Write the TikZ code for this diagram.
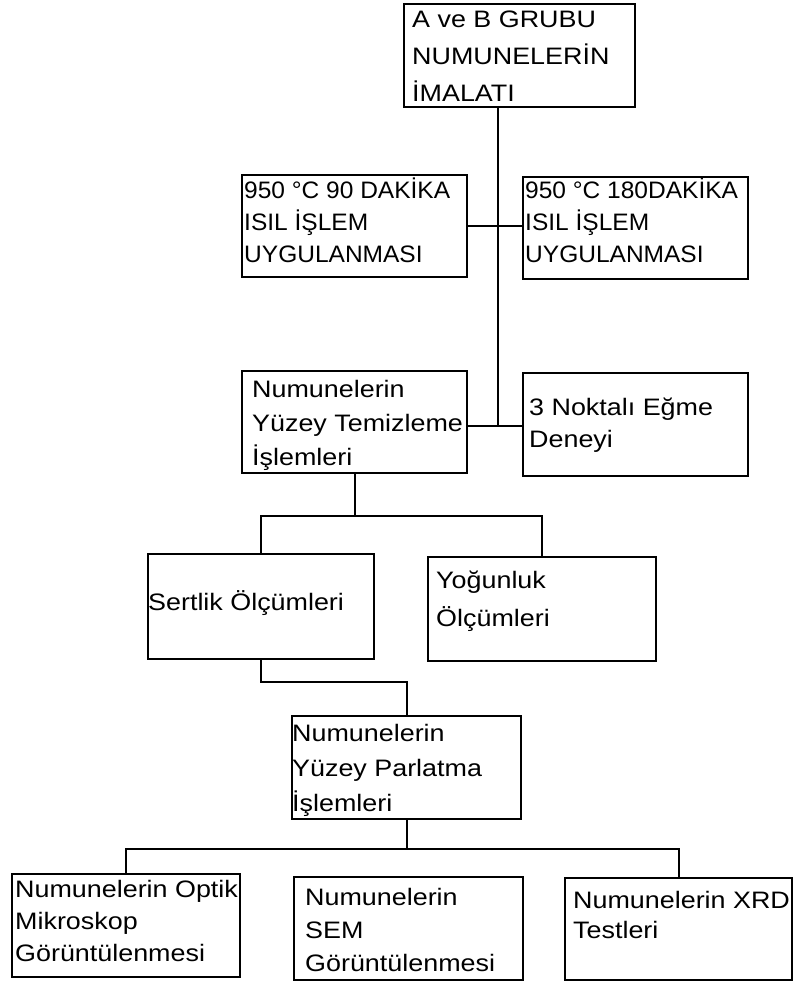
\documentclass[tikz,border=0pt]{standalone}
\usepackage{fontspec}
\setmainfont{Liberation Sans}[FakeStretch=1.13]
\newcommand{\txtlines}[2]{\fontsize{23.8}{#1}\selectfont\renewcommand{\arraystretch}{1}\begin{tabular}[t]{@{}l@{}}#2\end{tabular}}
\newcommand{\narrowlines}[2]{\fontsize{23.8}{#1}\selectfont\addfontfeatures{FakeStretch=1.03}\renewcommand{\arraystretch}{1}\begin{tabular}[t]{@{}l@{}}#2\end{tabular}}
\tikzset{
  box/.style={draw=black, line width=2pt, fill=none, anchor=north west, inner sep=0pt, outer sep=0pt},
  lbl/.style={anchor=base west, inner sep=0pt, text=black},
  conn/.style={draw=black, line width=2pt}
}
\begin{document}
\begin{tikzpicture}[x=1pt,y=-1pt]
\useasboundingbox (0,0) rectangle (795,981);
% boxes
\node[box, minimum width=231pt, minimum height=103pt] (b1) at (404,4) {};
\node[box, minimum width=225pt, minimum height=102pt] (b2) at (242,175) {};
\node[box, minimum width=225pt, minimum height=102pt] (b3) at (523,177) {};
\node[box, minimum width=225pt, minimum height=102pt] (b4) at (242,371) {};
\node[box, minimum width=225pt, minimum height=103pt] (b5) at (523,373) {};
\node[box, minimum width=226pt, minimum height=105pt] (b6) at (148,554) {};
\node[box, minimum width=228pt, minimum height=104pt] (b7) at (428,557) {};
\node[box, minimum width=229pt, minimum height=103pt] (b8) at (292,716) {};
\node[box, minimum width=228pt, minimum height=103pt] (b9) at (12,874) {};
\node[box, minimum width=229pt, minimum height=103pt] (b10) at (294,877) {};
\node[box, minimum width=227pt, minimum height=102pt] (b11) at (565,878) {};
% texts
\node[lbl] (t1) at (412,28) {\txtlines{37pt}{A ve B GRUBU\\NUMUNELERİN\\İMALATI}};
\node[lbl] (t2) at (244,199) {\narrowlines{32pt}{950 °C 90 DAKİKA\\ISIL İŞLEM\\UYGULANMASI}};
\node[lbl] (t3) at (525,199) {\narrowlines{32pt}{950 °C 180DAKİKA\\ISIL İŞLEM\\UYGULANMASI}};
\node[lbl] (t4) at (252,397) {\txtlines{34pt}{Numunelerin\\Yüzey Temizleme\\İşlemleri}};
\node[lbl] (t5) at (529,415) {\txtlines{32pt}{3 Noktalı Eğme\\Deneyi}};
\node[lbl] (t6) at (148,610) {\txtlines{32pt}{Sertlik Ölçümleri}};
\node[lbl] (t7) at (436,588) {\txtlines{38pt}{Yoğunluk\\Ölçümleri}};
\node[lbl] (t8) at (292,741) {\txtlines{35pt}{Numunelerin\\Yüzey Parlatma\\İşlemleri}};
\node[lbl] (t9) at (15,897) {\txtlines{32pt}{Numunelerin Optik\\Mikroskop\\Görüntülenmesi}};
\node[lbl] (t10) at (305,905) {\txtlines{33pt}{Numunelerin\\SEM\\Görüntülenmesi}};
\node[lbl] (t11) at (573,908) {\txtlines{30pt}{Numunelerin XRD\\Testleri}};
% junction coordinates
\coordinate (j1) at (498,426);
\coordinate (j2) at (355,516);
\coordinate (j3) at (330,682);
\coordinate (j4) at (406,849);
% connectors
\draw[conn] (b1.south -| j1) -- (j1);
\draw[conn] (b2.east) -- (b2.east -| b3.west);
\draw[conn] (b4.east |- j1) -- (b5.west |- j1);
\draw[conn] (b4.south) -- (b4.south |- j2);
\draw[conn] (b6.north) -- (b6.north |- j2) -- (b7.north |- j2) -- (b7.north);
\draw[conn] (b6.south) -- (b6.south |- j3) -| (b8.north);
\draw[conn] (b8.south) -- (b8.south |- j4);
\draw[conn] (b9.north) -- (b9.north |- j4) -- (b11.north |- j4) -- (b11.north);
\end{tikzpicture}
\end{document}
